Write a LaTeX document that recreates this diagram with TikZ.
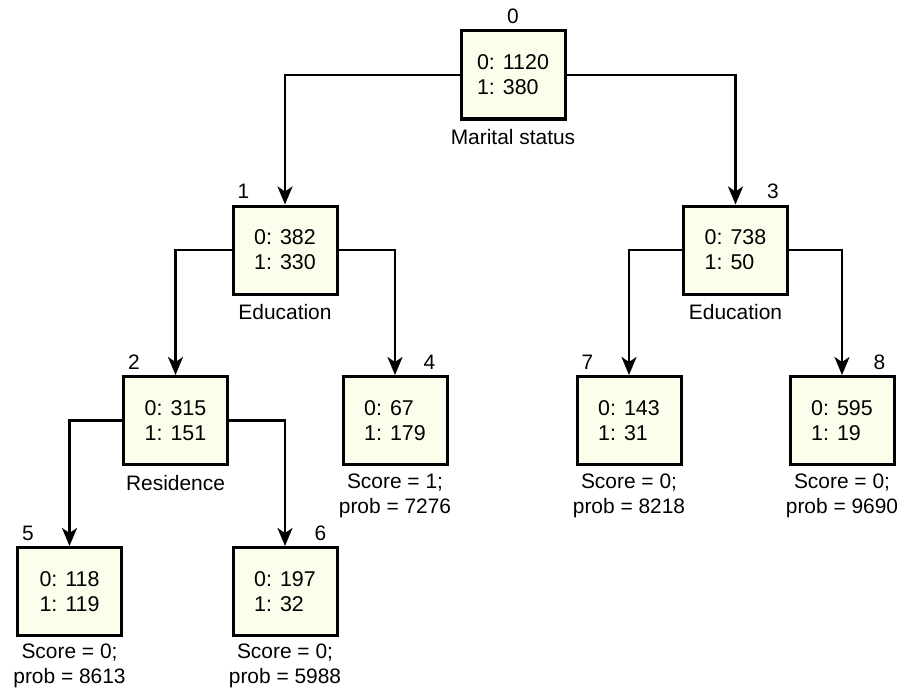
\documentclass[tikz,border=0pt]{standalone}
\usepackage{fontspec}
\setmainfont{Liberation Sans}
\usetikzlibrary{arrows.meta,calc}
\definecolor{boxfill}{RGB}{253,253,236}
\tikzset{
  treebox/.style={draw=black, line width=3bp, fill=boxfill, minimum width=104bp, minimum height=88bp,
    align=left, inner sep=0pt, font=\fontsize{21.5}{25}\selectfont},
  idlabel/.style={inner sep=0pt, font=\fontsize{21}{25}\selectfont},
  sublabel/.style={inner sep=0pt, anchor=north, align=center, font=\fontsize{21}{25}\selectfont},
  conn/.style={draw=black, line width=2.5bp, -{Stealth[length=18bp 0,width=15bp 0,inset=5bp 0]}}
}
\begin{document}
\begin{tikzpicture}[x=1bp,y=-1bp]
\useasboundingbox (0,0) rectangle (901,689);
% boxes
\node[treebox] (n0) at (513,75) {0: 1120\\1: 380};
\node[treebox] (n1) at (285,250) {0: 382\\1: 330};
\node[treebox] (n3) at (735.5,250) {0: 738\\1: 50};
\node[treebox] (n2) at (175.5,420.5) {0: 315\\1: 151};
\node[treebox] (n4) at (395,420.5) {0: 67\\1: 179};
\node[treebox] (n7) at (629,420.5) {0: 143\\1: 31};
\node[treebox] (n8) at (842,420.5) {0: 595\\1: 19};
\node[treebox] (n5) at (69.5,591.5) {0: 118\\1: 119};
\node[treebox] (n6) at (285,591.5) {0: 197\\1: 32};
% id labels
\node[idlabel, anchor=base] (i0) at ($(n0.north)+(0,-6)$) {0};
\node[idlabel, anchor=base west] (i1) at ($(n1.north west)+(6,-6)$) {1};
\node[idlabel, anchor=base east] (i3) at ($(n3.north east)+(-10,-6)$) {3};
\node[idlabel, anchor=base west] (i2) at ($(n2.north west)+(6,-6)$) {2};
\node[idlabel, anchor=base east] (i4) at ($(n4.north east)+(-13,-6)$) {4};
\node[idlabel, anchor=base west] (i7) at ($(n7.north west)+(6,-6)$) {7};
\node[idlabel, anchor=base east] (i8) at ($(n8.north east)+(-10,-6)$) {8};
\node[idlabel, anchor=base west] (i5) at ($(n5.north west)+(6,-6)$) {5};
\node[idlabel, anchor=base east] (i6) at ($(n6.north east)+(-12,-6)$) {6};
% sub labels
\node[sublabel] (s0) at ($(n0.south)+(0,9)$) {Marital status};
\node[sublabel] (s1) at ($(n1.south)+(0,9)$) {Education};
\node[sublabel] (s3) at ($(n3.south)+(0,9)$) {Education};
\node[sublabel] (s2) at ($(n2.south)+(0,9)$) {Residence};
\node[sublabel] (s4) at ($(n4.south)+(0,8)$) {Score = 1;\\prob = 7276};
\node[sublabel] (s7) at ($(n7.south)+(0,8)$) {Score = 0;\\prob = 8218};
\node[sublabel] (s8) at ($(n8.south)+(0,8)$) {Score = 0;\\prob = 9690};
\node[sublabel] (s5) at ($(n5.south)+(0,7)$) {Score = 0;\\prob = 8613};
\node[sublabel] (s6) at ($(n6.south)+(0,7)$) {Score = 0;\\prob = 5988};
% connectors
\draw[conn] (n0.west) -| (n1.north);
\draw[conn] (n0.east) -| (n3.north);
\draw[conn] (n1.west) -| (n2.north);
\draw[conn] (n1.east) -| (n4.north);
\draw[conn] (n3.west) -| (n7.north);
\draw[conn] (n3.east) -| (n8.north);
\draw[conn] (n2.west) -| (n5.north);
\draw[conn] (n2.east) -| (n6.north);
\end{tikzpicture}
\end{document}
